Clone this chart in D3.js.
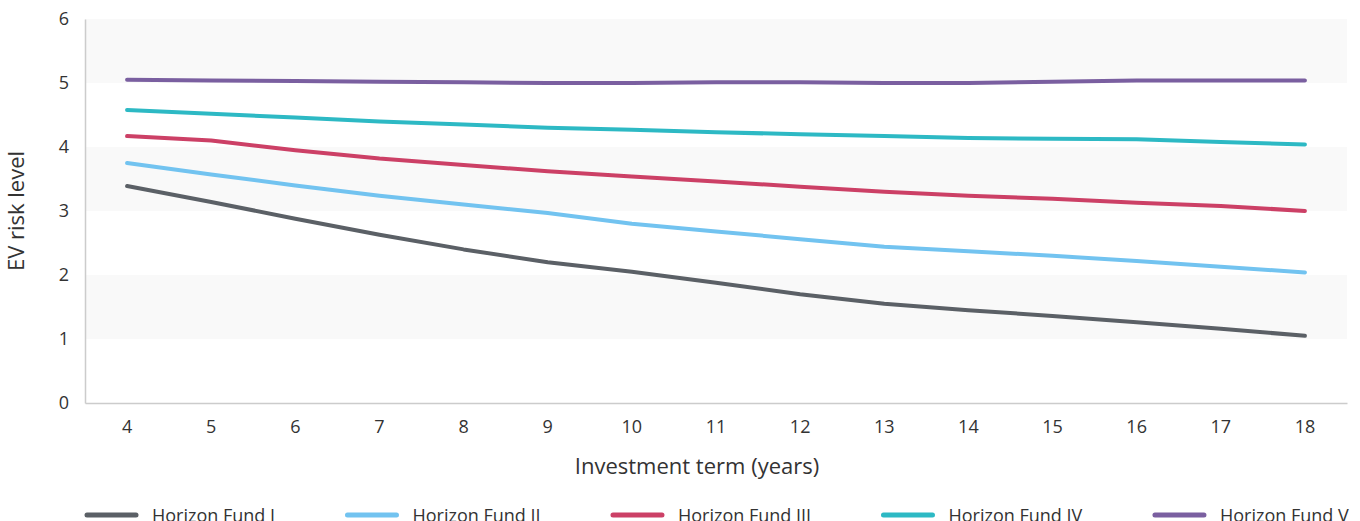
<!DOCTYPE html>
<html>
<head>
<meta charset="utf-8">
<script src="https://cdn.jsdelivr.net/npm/d3@7"></script>
<style>
  body { margin: 0; background: #fff; }
  svg { display: block; font-family: "Open Sans", sans-serif; }
</style>
</head>
<body>
<div id="chart"></div>
<script>
// Chart data
var years = [4, 5, 6, 7, 8, 9, 10, 11, 12, 13, 14, 15, 16, 17, 18];
var yTicks = [0, 1, 2, 3, 4, 5, 6];
var seriesNames = ['Horizon Fund I', 'Horizon Fund II', 'Horizon Fund III', 'Horizon Fund IV', 'Horizon Fund V'];
var fund1 = [3.39, 3.14, 2.88, 2.63, 2.40, 2.20, 2.05, 1.88, 1.70, 1.55, 1.45, 1.36, 1.26, 1.16, 1.05];
var fund2 = [3.75, 3.57, 3.40, 3.24, 3.10, 2.97, 2.80, 2.68, 2.56, 2.44, 2.37, 2.30, 2.22, 2.13, 2.04];
var fund3 = [4.17, 4.10, 3.95, 3.82, 3.72, 3.62, 3.54, 3.46, 3.38, 3.30, 3.24, 3.19, 3.13, 3.08, 3.00];
var fund4 = [4.58, 4.52, 4.46, 4.40, 4.35, 4.30, 4.27, 4.23, 4.20, 4.17, 4.14, 4.13, 4.12, 4.08, 4.04];
var fund5 = [5.05, 5.04, 5.03, 5.02, 5.01, 5.00, 5.00, 5.01, 5.01, 5.00, 5.00, 5.02, 5.04, 5.04, 5.04];
var colors = ['#5b6066', '#72c3f0', '#cc4066', '#2db9c4', '#7a5fa0'];

var width = 1360, height = 521;
var margin = {top: 19, right: 13, bottom: 118, left: 85};
var innerW = width - margin.left - margin.right;
var innerH = height - margin.top - margin.bottom;

var svg = d3.select('#chart')
  .append('svg')
    .attr('width', width)
    .attr('height', height);

var g = svg.append('g')
  .attr('transform', 'translate(' + margin.left + ',' + margin.top + ')');

var x = d3.scaleBand()
  .domain(years)
  .range([0, innerW]);
var y = d3.scaleLinear()
  .domain([0, 6])
  .range([innerH, 0]);

// Alternating bands
g.selectAll('.band')
  .data([1, 3, 5])
  .enter()
  .append('rect')
    .attr('x', 0)
    .attr('width', innerW)
    .attr('y', function(d) { return y(d + 1); })
    .attr('height', function(d) { return y(d) - y(d + 1); })
    .attr('fill', '#f9f9f9');

// Axes
var xAxis = g.append('g')
  .attr('transform', 'translate(0,' + innerH + ')')
  .call(d3.axisBottom(x).tickSize(0).tickPadding(17));
xAxis.select('.domain').attr('stroke', '#cccccc').attr('stroke-width', 1.5);
xAxis.selectAll('text').attr('font-size', 18).attr('fill', '#333').attr('font-family', '"Open Sans", sans-serif');

var yAxis = g.append('g')
  .call(d3.axisLeft(y).tickValues(yTicks).tickFormat(d3.format('d')).tickSize(0).tickPadding(16));
yAxis.select('.domain').attr('stroke', '#cccccc').attr('stroke-width', 1.5);
yAxis.selectAll('text').attr('font-size', 18).attr('fill', '#333').attr('font-family', '"Open Sans", sans-serif');

// Axis titles
svg.append('text')
  .attr('x', 697)
  .attr('y', 474)
  .attr('text-anchor', 'middle')
  .attr('font-size', 22)
  .attr('fill', '#333')
  .text('Investment term (years)');

svg.append('text')
  .attr('transform', 'translate(24,' + (margin.top + innerH / 2) + ') rotate(-90)')
  .attr('text-anchor', 'middle')
  .attr('font-size', 22)
  .attr('fill', '#333')
  .text('EV risk level');

// Lines
var allSeries = [fund1, fund2, fund3, fund4, fund5];
var line = d3.line()
  .x(function(d, i) { return x(years[i]) + x.bandwidth() / 2; })
  .y(function(d) { return y(d); });

g.selectAll('.series')
  .data(allSeries)
  .enter()
  .append('path')
    .attr('fill', 'none')
    .attr('stroke', function(d, i) { return colors[i]; })
    .attr('stroke-width', 4)
    .attr('stroke-linecap', 'round')
    .attr('stroke-linejoin', 'round')
    .attr('d', line);

// Legend
var legend = svg.append('g');
var items = legend.selectAll('.item')
  .data(seriesNames)
  .enter()
  .append('g');
items.append('line')
  .attr('x1', 2).attr('x2', 51)
  .attr('y1', 0).attr('y2', 0)
  .attr('stroke', function(d, i) { return colors[i]; })
  .attr('stroke-width', 5)
  .attr('stroke-linecap', 'round');
items.append('text')
  .attr('x', 67)
  .attr('y', 7)
  .attr('font-size', 18)
  .attr('fill', '#333')
  .text(function(d) { return d; });

// spread the items over the plot width
var widths = [];
items.each(function() { widths.push(this.getBBox().width); });
var total = d3.sum(widths);
var gap = (innerW - total) / (seriesNames.length - 1);
var pos = margin.left;
items.attr('transform', function(d, i) {
  var t = 'translate(' + pos + ',515)';
  pos += widths[i] + gap;
  return t;
});
</script>
</body>
</html>
